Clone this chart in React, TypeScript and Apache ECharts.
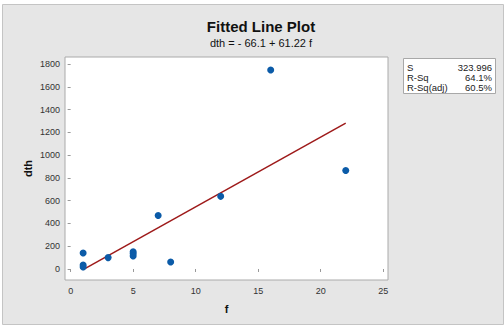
import React, { useEffect, useRef } from "react";
import * as echarts from "echarts";

const fValues = [1, 1, 1, 3, 5, 5, 5, 7, 8, 12, 16, 22];
const dthValues = [140, 35, 18, 100, 152, 135, 115, 470, 62, 638, 1748, 865];
const fitIntercept = -66.1;
const fitSlope = 61.22;
const fitRange = [1, 22];
const xTicks = [0, 5, 10, 15, 20, 25];
const yTicks = [0, 200, 400, 600, 800, 1000, 1200, 1400, 1600, 1800];
const statLabels = ["S", "R-Sq", "R-Sq(adj)"];
const statValues = ["323.996", "64.1%", "60.5%"];

export default function App() {
  const ref = useRef<HTMLDivElement>(null);
  useEffect(() => {
    if (!ref.current) return;
    const chart = echarts.init(ref.current, null, { renderer: "svg" });
    const font = "Liberation Sans, Arial, sans-serif";
    const fitLine = fitRange.map((x) => [x, fitIntercept + fitSlope * x]);
    const statsTexts: any[] = [];
    statLabels.forEach((lab, i) => {
      statsTexts.push({
        type: "text",
        left: 407,
        top: 62 + i * 10,
        style: { text: lab, fontSize: 9.5, fontFamily: font, fill: "#222" },
      });
      statsTexts.push({
        type: "text",
        right: 504 - 492,
        top: 62 + i * 10,
        style: { text: statValues[i], fontSize: 9.5, fontFamily: font, fill: "#222", textAlign: "right" },
      });
    });
    chart.setOption({
      animation: false,
      backgroundColor: "#ffffff",
      title: {
        text: "Fitted Line Plot",
        subtext: "dth = - 66.1 + 61.22 f",
        left: 256,
        textAlign: "center",
        top: 14,
        itemGap: 3,
        textStyle: { fontSize: 15, fontWeight: "bold", color: "#111", fontFamily: font },
        subtextStyle: { fontSize: 11, color: "#111", fontFamily: font },
      },
      graphic: [
        {
          type: "rect",
          z: -10,
          shape: { x: 2.5, y: 4.5, width: 501, height: 320 },
          style: { fill: "#e6e6e6", stroke: "#c4c4c4", lineWidth: 1 },
        },
        {
          type: "rect",
          shape: { x: 403.5, y: 58.5, width: 92, height: 35 },
          style: { fill: "#ffffff", stroke: "#a8a8a8", lineWidth: 1 },
        },
        ...statsTexts,
      ],
      grid: {
        left: 65,
        top: 57,
        right: 504 - 388,
        bottom: 326 - 280,
        show: true,
        backgroundColor: "#ffffff",
        borderColor: "#aaaaaa",
        borderWidth: 1,
      },
      xAxis: {
        type: "value",
        min: -0.45,
        max: 25.38,
        name: "f",
        nameLocation: "middle",
        nameGap: 21,
        nameTextStyle: { fontSize: 11, fontWeight: "bold", color: "#111", fontFamily: font },
        offset: 2,
        axisLine: { show: false },
        axisTick: { show: true, length: 3, lineStyle: { color: "#999" }, customValues: xTicks },
        axisLabel: { fontSize: 9, color: "#333", fontFamily: font, margin: 4, customValues: xTicks, formatter: (v: number) => String(v) },
        splitLine: { show: false },
      },
      yAxis: {
        type: "value",
        min: -96.6,
        max: 1861.5,
        name: "dth",
        nameLocation: "middle",
        nameGap: 30,
        nameRotate: 90,
        nameMoveOverlap: false,
        nameTextStyle: { fontSize: 11, fontWeight: "bold", color: "#111", fontFamily: font },
        offset: 2,
        axisLine: { show: false },
        axisTick: { show: true, length: 3, lineStyle: { color: "#999" }, customValues: yTicks },
        axisLabel: { fontSize: 9, color: "#333", fontFamily: font, margin: 3, customValues: yTicks, formatter: (v: number) => String(v) },
        splitLine: { show: false },
      },
      series: [
        {
          type: "line",
          data: fitLine,
          symbol: "none",
          lineStyle: { color: "#9e1a1a", width: 1.5 },
          z: 2,
        },
        {
          type: "scatter",
          data: fValues.map((f, i) => [f, dthValues[i]]),
          symbolSize: 7,
          itemStyle: { color: "#0b5ba8", opacity: 1 },
          z: 3,
        },
      ],
    });
    return () => chart.dispose();
  }, []);
  return (
    <div
      ref={ref}
      style={{ position: "absolute", left: 0, top: 0, width: 504, height: 326 }}
    />
  );
}
